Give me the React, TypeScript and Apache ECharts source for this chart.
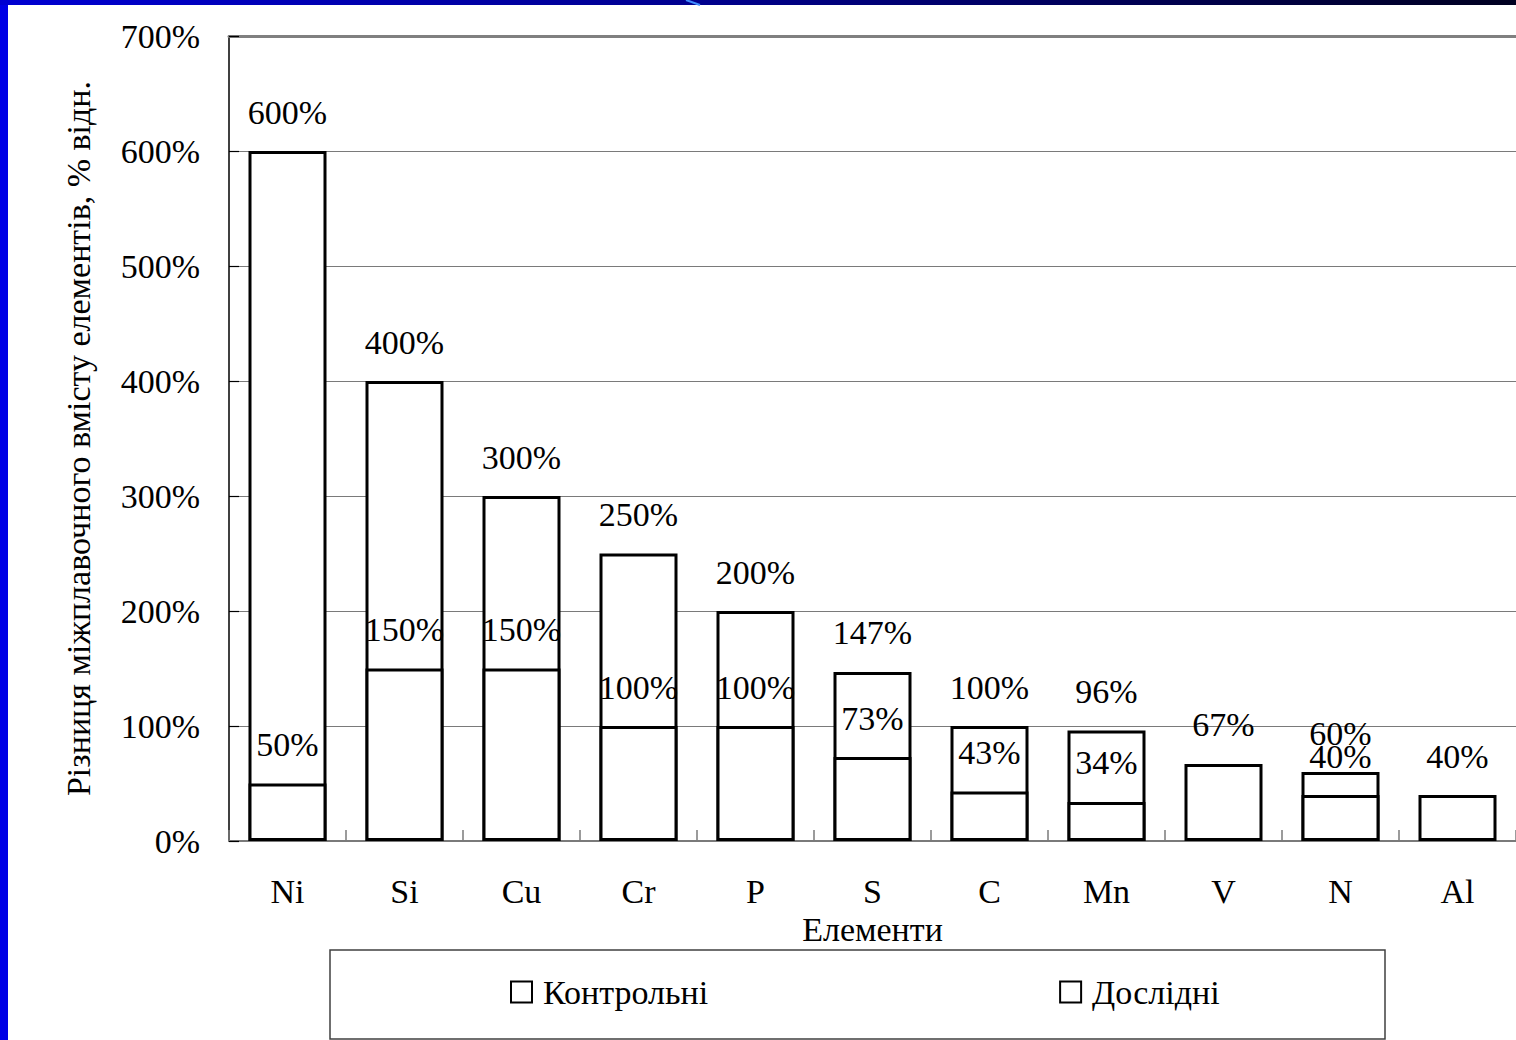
import React, { useEffect, useRef } from "react";
import * as echarts from "echarts";

// Elements along the category axis
const categories = ["Ni", "Si", "Cu", "Cr", "P", "S", "C", "Mn", "V", "N", "Al"];
// Inter-melt spread of element content, % relative
const controlValues = [600, 400, 300, 250, 200, 147, 100, 96, 67, 60, 40];
const experimentalValues: (number | null)[] = [50, 150, 150, 100, 100, 73, 43, 34, null, 40, null];

const seriesNames = ["Контрольні", "Дослідні"];
const yAxisTitle = "Різниця міжплавочного вмісту елементів, % відн.";
const xAxisTitle = "Елементи";

const SERIF = '"Liberation Serif", "Times New Roman", "DejaVu Serif", serif';
const FS = 34;

export default function App() {
  const ref = useRef<HTMLDivElement>(null);

  useEffect(() => {
    document.body.style.margin = "0";
    const chart = echarts.init(ref.current!, null, { renderer: "svg" });

    const barStyle = { color: "#ffffff", borderColor: "#000000", borderWidth: 3 };
    const valueLabel = {
      show: true,
      position: "top" as const,
      distance: 22,
      formatter: "{c}%",
      color: "#000",
      fontFamily: SERIF,
      fontSize: FS,
    };

    chart.setOption({
      animation: false,
      backgroundColor: "#ffffff",
      grid: { left: 229, right: 0, top: 36, bottom: 199 },
      legend: {
        left: 510,
        top: 975,
        padding: 0,
        itemGap: 351,
        itemWidth: 21,
        itemHeight: 21,
        icon: "rect",
        itemStyle: { color: "#fff", borderColor: "#000", borderWidth: 2 },
        textStyle: { fontFamily: SERIF, fontSize: FS, color: "#000", padding: [0, 0, 0, 6] },
        data: seriesNames,
      },
      xAxis: [
        {
          type: "category",
          data: categories,
          name: xAxisTitle,
          nameLocation: "middle",
          nameGap: 71,
          nameTextStyle: { fontFamily: SERIF, fontSize: FS, color: "#000" },
          axisLine: { show: true, lineStyle: { color: "#7a7a7a", width: 2 } },
          axisTick: { show: true, inside: true, length: 11, interval: 0, lineStyle: { color: "#7a7a7a", width: 1.5 } },
          axisLabel: { interval: 0, margin: 33, fontFamily: SERIF, fontSize: FS, color: "#000" },
        },
        {
          type: "category",
          data: categories,
          position: "top",
          axisLine: { show: true, lineStyle: { color: "#808080", width: 3 } },
          axisTick: { show: false },
          axisLabel: { show: false },
        },
      ],
      yAxis: {
        type: "value",
        min: 0,
        max: 700,
        interval: 100,
        name: yAxisTitle,
        nameLocation: "middle",
        nameGap: 134,
        nameTextStyle: { fontFamily: SERIF, fontSize: FS, color: "#000" },
        axisLine: { show: true, lineStyle: { color: "#000", width: 1.5 } },
        axisTick: { show: true, inside: true, length: 10, lineStyle: { color: "#000", width: 1.2 } },
        splitLine: { show: true, lineStyle: { color: "#7a7a7a", width: 1.2 } },
        axisLabel: { formatter: "{value}%", margin: 29, fontFamily: SERIF, fontSize: FS, color: "#000" },
      },
      series: [
        {
          name: seriesNames[0],
          type: "bar",
          data: controlValues,
          barWidth: 78,
          barGap: "-100%",
          itemStyle: barStyle,
          label: valueLabel,
          z: 2,
        },
        {
          name: seriesNames[1],
          type: "bar",
          data: experimentalValues,
          barWidth: 78,
          barGap: "-100%",
          itemStyle: barStyle,
          label: valueLabel,
          z: 3,
        },
      ],
      graphic: [
        // slide frame: left bar and top band
        {
          type: "rect",
          shape: { x: 0, y: 0, width: 8, height: 1040 },
          style: { fill: "#0000e6" },
          z: 100,
        },
        {
          type: "rect",
          shape: { x: 0, y: 0, width: 1516, height: 5 },
          style: {
            fill: new echarts.graphic.LinearGradient(0, 0, 1, 0, [
              { offset: 0, color: "#0000d2" },
              { offset: 0.45, color: "#000090" },
              { offset: 1, color: "#000020" },
            ]),
          },
          z: 100,
        },
        {
          type: "line",
          shape: { x1: 686, y1: 0, x2: 700, y2: 5 },
          style: { stroke: "#3f8cff", lineWidth: 2 },
          z: 101,
        },
        // legend frame
        {
          type: "rect",
          shape: { x: 330, y: 950, width: 1055, height: 89 },
          style: { fill: "transparent", stroke: "#404040", lineWidth: 1.5 },
          z: 10,
        },
      ],
    });

    return () => chart.dispose();
  }, []);

  return (
    <div
      ref={ref}
      style={{ position: "absolute", left: 0, top: 0, width: 1516, height: 1040 }}
    />
  );
}
